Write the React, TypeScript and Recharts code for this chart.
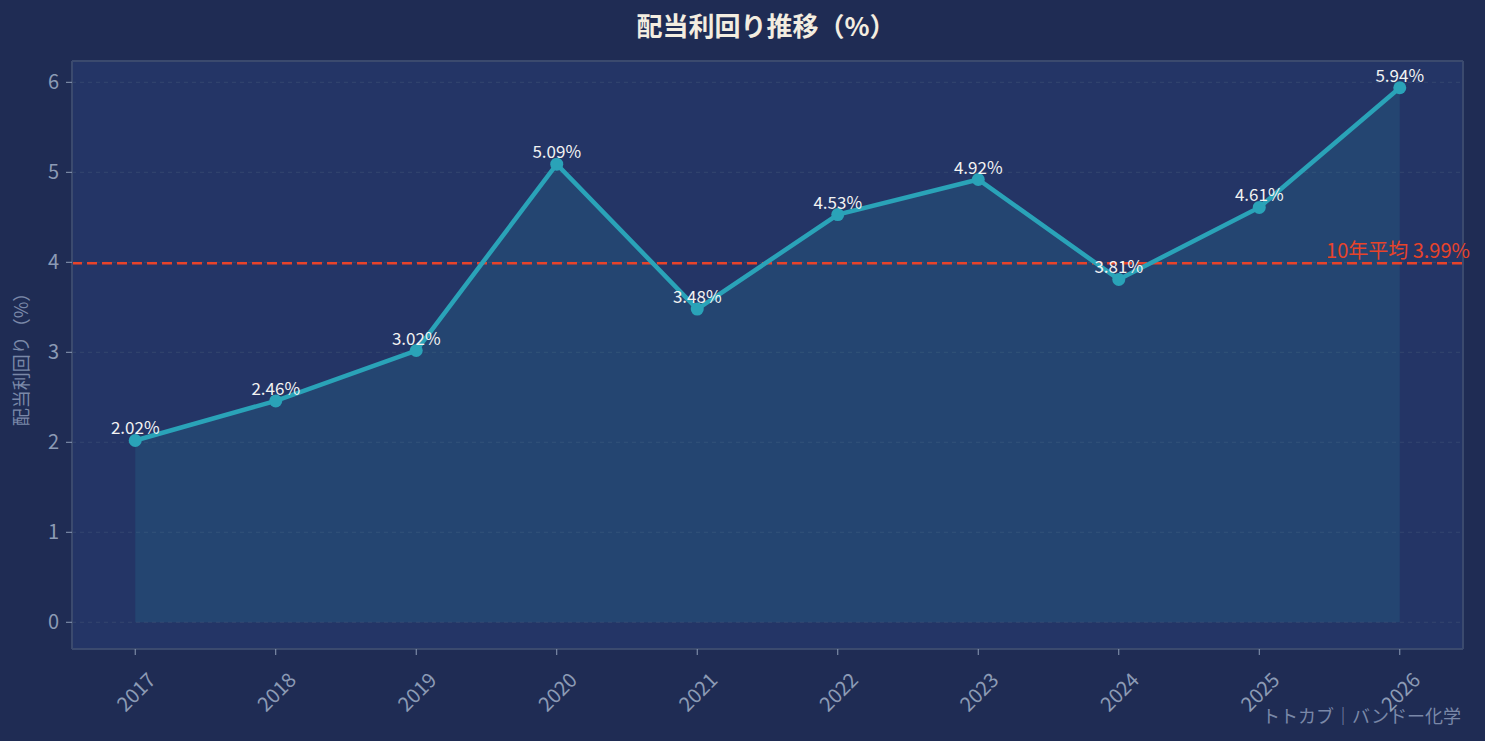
import {
  ComposedChart,
  Area,
  Line,
  XAxis,
  YAxis,
  CartesianGrid,
  ReferenceLine,
  LabelList,
} from 'recharts'

const years = ['2017', '2018', '2019', '2020', '2021', '2022', '2023', '2024', '2025', '2026']
const yields = [2.02, 2.46, 3.02, 5.09, 3.48, 4.53, 4.92, 3.81, 4.61, 5.94]
const tenYearAverage = 3.99
const yTicks = [0, 1, 2, 3, 4, 5, 6]

const FONT = '"Noto Sans CJK JP", "Noto Sans", sans-serif'
const PAGE_BG = '#1f2c54'
const PLOT_BG = '#243566'
const BORDER = '#3b4a6e'
const TICK = '#8c9bb5'
const TEAL = '#2aa3b8'
const RED = '#e8432a'

const W = 1485
const H = 741

const data = years.map((year, i) => ({ idx: i, year, value: yields[i] }))

// matplotlib-style 5% margins
const xPad = (years.length - 1) * 0.05
const xDomain: [number, number] = [-xPad, years.length - 1 + xPad]
const yTop = Math.max(...yields)
const yPad = yTop * 0.05
const yDomain: [number, number] = [-yPad, yTop + yPad]

function XTick({ x, y, payload }: any) {
  return (
    <g transform={`translate(${x},${y + 34}) rotate(-45)`}>
      <text textAnchor="middle" dominantBaseline="central" fill={TICK} fontSize={20} fontFamily={FONT}>
        {years[payload.value]}
      </text>
    </g>
  )
}

function AvgLabel({ viewBox }: any) {
  if (!viewBox) return null
  return (
    <text
      x={viewBox.x + viewBox.width + 7}
      y={viewBox.y - 5}
      textAnchor="end"
      fill={RED}
      fontSize={20}
      fontFamily={FONT}
    >
      {`10年平均 ${tenYearAverage.toFixed(2)}%`}
    </text>
  )
}

export default function App() {
  return (
    <div style={{ position: 'absolute', left: 0, top: 0, width: W, height: H, background: PAGE_BG, fontFamily: FONT }}>
      <div
        style={{
          position: 'absolute',
          top: 7,
          left: 0,
          width: 1532,
          textAlign: 'center',
          color: '#f3ede0',
          fontSize: 26,
          fontWeight: 700,
          lineHeight: '36px',
        }}
      >
        配当利回り推移（%）
      </div>
      <ComposedChart
        width={W}
        height={H}
        data={data}
        margin={{ top: 61, right: 22, left: 2, bottom: 12 }}
        style={{ position: 'absolute', left: 0, top: 0 }}
      >
        <CartesianGrid
          vertical={false}
          fill={PLOT_BG}
          fillOpacity={1}
          stroke="#34466f"
          strokeDasharray="4 4"
        />
        <XAxis
          type="number"
          dataKey="idx"
          domain={xDomain}
          ticks={years.map((_, i) => i)}
          allowDataOverflow
          interval={0}
          height={80}
          tick={<XTick />}
          tickSize={6}
          tickLine={{ stroke: TICK }}
          axisLine={{ stroke: BORDER, strokeWidth: 2 }}
        />
        <YAxis
          type="number"
          domain={yDomain}
          ticks={yTicks}
          allowDataOverflow
          width={70}
          tickSize={6}
          tickMargin={7}
          tick={{ fill: TICK, fontSize: 20, fontFamily: FONT }}
          tickLine={{ stroke: TICK }}
          axisLine={{ stroke: BORDER, strokeWidth: 2 }}
          label={{
            value: '配当利回り（%）',
            angle: -90,
            position: 'insideLeft',
            offset: 20,
            fill: '#7a88a8',
            fontSize: 18,
            fontFamily: FONT,
            style: { textAnchor: 'middle' },
          }}
        />
        <ReferenceLine y={yDomain[1]} stroke={BORDER} strokeWidth={2} />
        <ReferenceLine x={xDomain[1]} stroke={BORDER} strokeWidth={2} />
        <Area
          type="linear"
          dataKey="value"
          stroke="none"
          fill={TEAL}
          fillOpacity={0.15}
          baseValue={0}
          isAnimationActive={false}
        />
        <ReferenceLine
          y={tenYearAverage}
          stroke={RED}
          strokeWidth={2.6}
          strokeDasharray="10 5"
          label={<AvgLabel />}
        />
        <Line
          type="linear"
          dataKey="value"
          stroke={TEAL}
          strokeWidth={4.5}
          dot={{ r: 6.5, fill: TEAL, stroke: 'none' }}
          activeDot={false}
          isAnimationActive={false}
        >
          <LabelList
            dataKey="value"
            position="top"
            offset={6}
            formatter={(v: any) => `${Number(v).toFixed(2)}%`}
            fill="#f2f2f2"
            fontSize={17}
            fontFamily={FONT}
          />
        </Line>
      </ComposedChart>
      <div
        style={{
          position: 'absolute',
          right: 24,
          top: 702,
          color: '#7a88a8',
          fontSize: 18,
          lineHeight: '26px',
        }}
      >
        トトカブ｜バンドー化学
      </div>
    </div>
  )
}
